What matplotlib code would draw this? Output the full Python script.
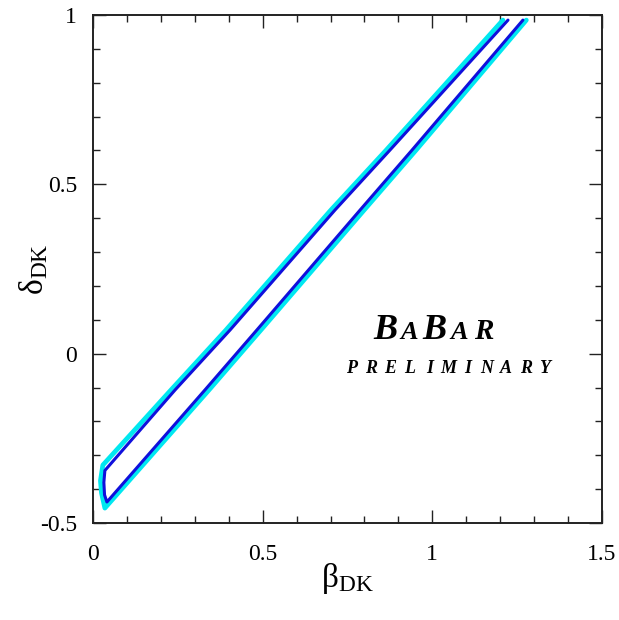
import matplotlib
matplotlib.use("Agg")
import matplotlib.pyplot as plt
from matplotlib.ticker import MultipleLocator, FixedLocator

# ---- data ----
# inner (blue) contour: down the upper edge, round the lower-left end, up the lower edge
blue_x = [1.223, 0.875, 0.713, 0.404, 0.242, 0.035, 0.032, 0.034, 0.041, 0.330, 0.483, 0.787, 0.940, 1.267]
blue_y = [0.985, 0.601, 0.424, 0.070, -0.107, -0.345, -0.380, -0.417, -0.438, -0.107, 0.070, 0.424, 0.601, 0.985]
# outer (cyan) contour
cyan_x = [1.208, 0.864, 0.701, 0.392, 0.230, 0.029, 0.022, 0.025, 0.035, 0.342, 0.495, 0.799, 0.952, 1.277]
cyan_y = [0.985, 0.601, 0.424, 0.070, -0.107, -0.329, -0.375, -0.411, -0.456, -0.107, 0.070, 0.424, 0.601, 0.985]

x_ticks = [0, 0.5, 1, 1.5]
x_ticklabels = ["0", "0.5", "1", "1.5"]
y_ticks = [-0.5, 0, 0.5, 1]
y_ticklabels = ["-0.5", "0", "0.5", "1"]

plt.rcParams['font.family'] = ['Liberation Serif', 'DejaVu Serif']
plt.rcParams['mathtext.fontset'] = 'custom'
plt.rcParams['mathtext.rm'] = 'Liberation Serif'
plt.rcParams['mathtext.it'] = 'Liberation Serif:italic'

fig = plt.figure(figsize=(6.19, 6.20), dpi=100)
W, H = 619, 620
L, R, T, B = 93, 602, 15, 523
ax = fig.add_axes([L / W, 1 - B / H, (R - L) / W, (B - T) / H])

ax.plot(cyan_x, cyan_y, color='#00e8f0', lw=3.4, solid_joinstyle='round', solid_capstyle='round', zorder=2)
ax.plot(blue_x, blue_y, color='#1010dc', lw=2.2, solid_joinstyle='round', solid_capstyle='round', zorder=3)

ax.set_xlim(0, 1.5)
ax.set_ylim(-0.5, 1)
ax.xaxis.set_major_locator(FixedLocator(x_ticks))
ax.yaxis.set_major_locator(FixedLocator(y_ticks))
ax.set_xticklabels(x_ticklabels)
ax.set_yticklabels(y_ticklabels)
ax.xaxis.set_minor_locator(MultipleLocator(0.1))
ax.yaxis.set_minor_locator(MultipleLocator(0.1))
ax.tick_params(which='both', direction='in', top=True, right=True, color='#222222')
ax.tick_params(which='major', length=9.5, width=1.0, labelsize=17)
ax.tick_params(axis='x', which='major', pad=15)
ax.tick_params(axis='y', which='major', pad=11.5)
ax.tick_params(which='minor', length=5, width=1.0)
for s in ax.spines.values():
    s.set_linewidth(1.4)
    s.set_color('#222222')

ax.set_xlabel('β$_{\\mathrm{DK}}$', fontsize=24)
ax.xaxis.set_label_coords(0.5, -0.075)
ax.set_ylabel('δ$_{\\mathrm{DK}}$', fontsize=24)
ax.yaxis.set_label_coords(-0.084, 0.5)

# BaBar logo
def px(xp, yp):
    return ((xp - L) / (R - L), (B - yp) / (B - T))

logo = [("B", 385, 26), ("A", 409, 19), ("B", 434, 26), ("A", 459, 19), ("R", 484, 21)]
for ch, xp, fs in logo:
    ax.text(*px(xp, 339), ch, transform=ax.transAxes, fontsize=fs, fontweight='bold',
            fontstyle='italic', ha='center', va='baseline')
prelim = "PRELIMINARY"
for i, ch in enumerate(prelim):
    ax.text(*px(352 + i * 19.3, 373), ch, transform=ax.transAxes, fontsize=13,
            fontweight='bold', fontstyle='italic', ha='center', va='baseline')

fig.savefig('out.png', dpi=100)
